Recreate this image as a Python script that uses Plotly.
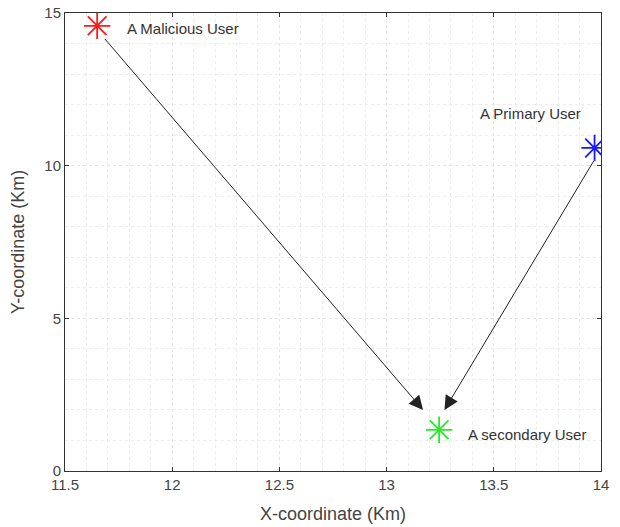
import plotly.graph_objects as go

# Data
user_names = ["A Malicious User", "A Primary User", "A secondary User"]
user_x = [11.65, 13.97, 13.245]
user_y = [14.58, 10.58, 1.35]
user_colors = ["#ff1a1a", "#1a1aff", "#22ee22"]

label_x = [11.78, 13.67, 13.37]
label_y = [14.5, 11.7, 1.2]
label_anchor = ["left", "center", "left"]

# arrows: (start_x, start_y) -> (end_x, end_y)
arrow_start_x = [11.68, 13.97]
arrow_start_y = [14.2, 10.2]
arrow_end_x = [13.17, 13.27]
arrow_end_y = [2.0, 2.0]

x_ticks = [11.5, 12, 12.5, 13, 13.5, 14]
x_tick_labels = ["11.5", "12", "12.5", "13", "13.5", "14"]
y_ticks = [0, 5, 10, 15]
y_tick_labels = ["0", "5", "10", "15"]

font_family = "Liberation Sans, Arial, sans-serif"

fig = go.Figure()
for i in range(len(user_names)):
    fig.add_trace(go.Scatter(
        x=[user_x[i]], y=[user_y[i]], mode="markers",
        marker=dict(symbol="asterisk-open", size=22, color=user_colors[i],
                    line=dict(color=user_colors[i], width=1.8)),
        showlegend=False, hoverinfo="skip"))

annotations = []
for i in range(len(user_names)):
    annotations.append(dict(
        x=label_x[i], y=label_y[i], xref="x", yref="y", text=user_names[i],
        showarrow=False, xanchor=label_anchor[i], yanchor="middle",
        font=dict(family=font_family, size=15, color="#333")))
for i in range(len(arrow_start_x)):
    annotations.append(dict(
        x=arrow_end_x[i], y=arrow_end_y[i], ax=arrow_start_x[i], ay=arrow_start_y[i],
        xref="x", yref="y", axref="x", ayref="y", text="",
        showarrow=True, arrowhead=2, arrowsize=2.8, arrowwidth=1,
        arrowcolor="#222", standoff=0, startstandoff=0))

axis_common = dict(
    showline=True, linecolor="#333", linewidth=1, mirror="ticks",
    ticks="inside", ticklen=4, tickcolor="#333",
    showgrid=True, gridcolor="#e4e4e4", griddash="dot", gridwidth=1,
    zeroline=False, automargin=False,
    tickfont=dict(family=font_family, size=15, color="#444"),
)

fig.update_xaxes(
    range=[11.5, 14], tickvals=x_ticks, ticktext=x_tick_labels,
    minor=dict(dtick=0.1, tick0=11.5, showgrid=True, gridcolor="#ececec",
               griddash="dot", ticks=""),
    title=dict(text="X-coordinate (Km)", font=dict(family=font_family, size=18, color="#444")),
    **axis_common)
fig.update_yaxes(
    range=[0, 15], tickvals=y_ticks, ticktext=y_tick_labels,
    minor=dict(dtick=1, tick0=0, showgrid=True, gridcolor="#ececec",
               griddash="dot", ticks=""),
    title=dict(text="Y-coordinate (Km)", font=dict(family=font_family, size=18, color="#444")),
    **axis_common)

fig.update_layout(
    width=620, height=527,
    margin=dict(l=65, r=19, t=13, b=56),
    plot_bgcolor="white", paper_bgcolor="white",
    annotations=annotations,
)

fig.write_html("out.html", config={"displayModeBar": False},
               post_script="document.body.style.margin='0';document.body.style.overflow='hidden';")
